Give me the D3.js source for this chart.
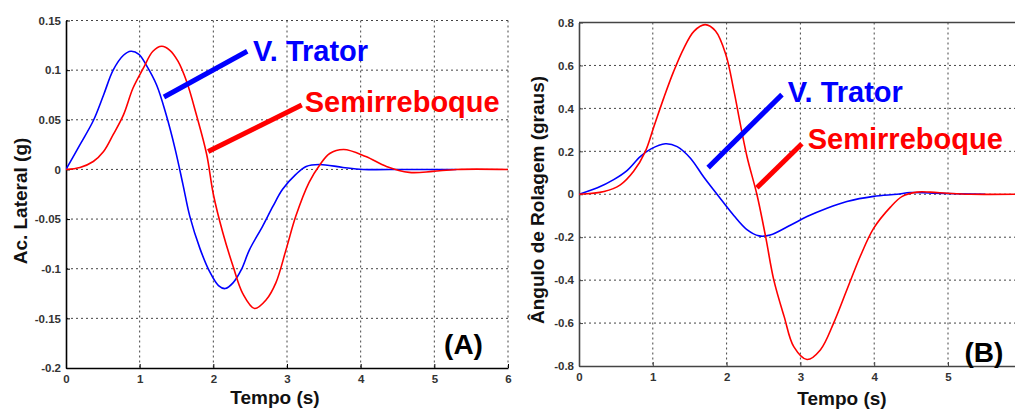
<!DOCTYPE html>
<html>
<head>
<meta charset="utf-8">
<script src="https://cdn.jsdelivr.net/npm/d3@7"></script>
<style>
  html, body { margin: 0; padding: 0; background: #fff; }
  svg { display: block; font-family: "Liberation Sans", Arial, sans-serif; }
</style>
</head>
<body>
<svg id="chart" width="1015" height="410"></svg>
<script>
// ---------------- DATA ----------------
// Panel A: lateral acceleration (g)
const tA_trator = [0, 0.19, 0.37, 0.51, 0.64, 0.78, 0.88, 0.99, 1.09, 1.23, 1.36, 1.48, 1.59, 1.68, 1.82, 1.95, 2.07, 2.16, 2.27, 2.38, 2.49, 2.67, 2.81, 2.94, 3.12, 3.26, 3.44, 3.76, 4.03, 4.6, 5.3];
const vA_trator = [0, 0.025, 0.049, 0.075, 0.1, 0.115, 0.119, 0.116, 0.105, 0.085, 0.055, 0.021, -0.016, -0.047, -0.08, -0.103, -0.117, -0.12, -0.114, -0.101, -0.081, -0.057, -0.037, -0.02, -0.005, 0.003, 0.005, 0.002, 0, 0, 0];
const tA_semi = [0, 0.19, 0.37, 0.51, 0.64, 0.78, 0.91, 1.05, 1.18, 1.30, 1.41, 1.52, 1.64, 1.77, 1.91, 2.0, 2.13, 2.27, 2.40, 2.56, 2.72, 2.85, 2.99, 3.12, 3.30, 3.44, 3.58, 3.77, 4.07, 4.35, 4.66, 4.98, 5.3, 6.0];
const vA_semi = [0, 0.002, 0.008, 0.018, 0.035, 0.055, 0.082, 0.102, 0.119, 0.124, 0.120, 0.109, 0.088, 0.055, 0.015, -0.025, -0.064, -0.098, -0.125, -0.14, -0.131, -0.114, -0.08, -0.047, -0.013, 0.004, 0.016, 0.020, 0.013, 0.003, -0.003, -0.002, 0, 0];

// Panel B: roll angle (degrees)
const tB_trator = [0, 0.25, 0.47, 0.65, 0.83, 0.97, 1.17, 1.33, 1.51, 1.69, 1.87, 2.10, 2.28, 2.44, 2.59, 2.87, 3.09, 3.36, 3.63, 3.99, 4.31, 4.49, 4.80, 5.5];
const vB_trator = [0, 0.03, 0.068, 0.11, 0.175, 0.21, 0.235, 0.222, 0.168, 0.08, 0.0, -0.10, -0.166, -0.194, -0.19, -0.143, -0.104, -0.065, -0.034, -0.01, 0.0, 0.008, 0.005, 0];
const tB_semi = [0, 0.34, 0.56, 0.74, 0.90, 1.01, 1.15, 1.28, 1.42, 1.56, 1.71, 1.85, 1.99, 2.10, 2.19, 2.28, 2.41, 2.53, 2.64, 2.78, 2.91, 3.09, 3.27, 3.45, 3.63, 3.81, 3.99, 4.22, 4.38, 4.58, 4.76, 4.99, 5.3, 6.0];
const vB_semi = [0, 0.013, 0.044, 0.107, 0.2, 0.31, 0.45, 0.57, 0.68, 0.76, 0.79, 0.76, 0.65, 0.48, 0.32, 0.17, 0.0, -0.2, -0.40, -0.57, -0.71, -0.77, -0.725, -0.60, -0.445, -0.29, -0.16, -0.06, -0.01, 0.01, 0.01, 0.005, 0, 0];

// Tick labels
const xTicks = [0, 1, 2, 3, 4, 5, 6];
const xTickLabels = ["0", "1", "2", "3", "4", "5", "6"];
const yTicksA = [0.15, 0.1, 0.05, 0, -0.05, -0.1, -0.15, -0.2];
const yTickLabelsA = ["0.15", "0.1", "0.05", "0", "-0.05", "-0.1", "-0.15", "-0.2"];
const yTicksB = [0.8, 0.6, 0.4, 0.2, 0, -0.2, -0.4, -0.6, -0.8];
const yTickLabelsB = ["0.8", "0.6", "0.4", "0.2", "0", "-0.2", "-0.4", "-0.6", "-0.8"];

// Text
const seriesNames = ["V. Trator", "Semirreboque"];
const xTitle = "Tempo (s)";
const yTitleA = "Ac. Lateral (g)";
const yTitleB = "Ângulo de Rolagem (graus)";
const panelLabels = ["(A)", "(B)"];

// Annotation anchors, in data units: [t, value]
const annA = { trLine: [[1.33, 0.073], [2.46, 0.119]], smLine: [[1.93, 0.018], [3.20, 0.065]], trText: [2.54, 0.109], smText: [3.24, 0.058], label: [5.66, -0.186] };
const annB = { trLine: [[1.75, 0.124], [2.75, 0.464]], smLine: [[2.41, 0.03], [3.02, 0.235]], trText: [2.83, 0.431], smText: [3.10, 0.212], label: [5.75, -0.78] };

// ---------------- DRAW ----------------
const svg = d3.select("#chart");
const BLUE = "#0000ff", RED = "#ff0000";

function panel(cfg) {
  const g = svg.append("g");
  const x = d3.scaleLinear().domain([0, 6]).range(cfg.xr);
  const y = d3.scaleLinear().domain(cfg.yd).range(cfg.yr);
  const [x0, x1] = cfg.xr, [y0, y1] = [cfg.yr[1], cfg.yr[0]];

  const clipId = "clip" + cfg.id;
  svg.append("clipPath").attr("id", clipId).append("rect")
    .attr("x", x0).attr("y", y0 - 2).attr("width", Math.min(x1, 1015) - x0 + 2).attr("height", y1 - y0 + 4);

  // grid
  const gridX = cfg.xTicks.filter(d => d > 0);
  g.selectAll(".gx").data(gridX).enter().append("line")
    .attr("x1", d => x(d)).attr("x2", d => x(d)).attr("y1", y0).attr("y2", y1)
    .attr("stroke", "#444").attr("stroke-width", 1).attr("stroke-dasharray", "2,3");
  const gridY = cfg.yTicks.filter(d => d !== cfg.yd[0]);
  g.selectAll(".gy").data(gridY).enter().append("line")
    .attr("x1", x0).attr("x2", Math.min(x1, 1015)).attr("y1", d => y(d)).attr("y2", d => y(d))
    .attr("stroke", "#444").attr("stroke-width", 1).attr("stroke-dasharray", "2,3");

  // axes
  const xAxis = d3.axisBottom(x).tickValues(cfg.xTicks.filter(d => x(d) <= 1015))
    .tickFormat(d => cfg.xLabels[cfg.xTicks.indexOf(d)]).tickSizeInner(-4).tickSizeOuter(0).tickPadding(9);
  const gx = g.append("g").attr("transform", `translate(0,${y1})`).call(xAxis);
  const yAxis = d3.axisLeft(y).tickValues(cfg.yTicks)
    .tickFormat(d => cfg.yLabels[cfg.yTicks.indexOf(d)]).tickSizeInner(-4).tickSizeOuter(0).tickPadding(5);
  const gy = g.append("g").attr("transform", `translate(${x0},0)`).call(yAxis);
  [gx, gy].forEach(a => {
    a.select(".domain").attr("stroke", cfg.axisColor).attr("stroke-width", 1.6);
    a.selectAll(".tick line").attr("stroke", cfg.axisColor).attr("stroke-width", 1);
    a.selectAll(".tick text").attr("fill", "#333").attr("font-size", 11.5).attr("font-weight", "bold")
      .attr("font-family", "'Liberation Sans', Arial, sans-serif");
  });
  gx.selectAll(".tick text").attr("dy", "0.5em");
  if (cfg.topAxis) {
    g.append("line").attr("x1", x0).attr("x2", 1015).attr("y1", y0).attr("y2", y0)
      .attr("stroke", cfg.axisColor).attr("stroke-width", 1.6);
  }

  // lines
  const line = d3.line().x(d => x(d[0])).y(d => y(d[1])).curve(d3.curveCatmullRom.alpha(0.5));
  const pg = g.append("g").attr("clip-path", `url(#${clipId})`);
  pg.append("path").datum(d3.zip(cfg.tTr, cfg.vTr)).attr("d", line)
    .attr("fill", "none").attr("stroke", BLUE).attr("stroke-width", 1.6);
  pg.append("path").datum(d3.zip(cfg.tSm, cfg.vSm)).attr("d", line)
    .attr("fill", "none").attr("stroke", RED).attr("stroke-width", 1.6);

  // annotations
  const a = cfg.ann;
  g.append("line").attr("x1", x(a.trLine[0][0])).attr("y1", y(a.trLine[0][1]))
    .attr("x2", x(a.trLine[1][0])).attr("y2", y(a.trLine[1][1]))
    .attr("stroke", BLUE).attr("stroke-width", 5);
  g.append("line").attr("x1", x(a.smLine[0][0])).attr("y1", y(a.smLine[0][1]))
    .attr("x2", x(a.smLine[1][0])).attr("y2", y(a.smLine[1][1]))
    .attr("stroke", RED).attr("stroke-width", 5);
  g.append("text").attr("x", x(a.trText[0])).attr("y", y(a.trText[1]))
    .attr("fill", BLUE).attr("font-size", 29).attr("font-weight", "bold").text(seriesNames[0]);
  g.append("text").attr("x", x(a.smText[0])).attr("y", y(a.smText[1]))
    .attr("fill", RED).attr("font-size", 29).attr("font-weight", "bold").text(seriesNames[1]);
  g.append("text").attr("x", x(a.label[0])).attr("y", y(a.label[1]))
    .attr("text-anchor", "end").attr("fill", "#000").attr("font-size", 28).attr("font-weight", "bold").text(cfg.panelLabel);

  // titles
  g.append("text").attr("x", cfg.xTitlePos[0]).attr("y", cfg.xTitlePos[1]).attr("text-anchor", "middle")
    .attr("fill", "#111").attr("font-size", 19).attr("font-weight", "bold").text(xTitle);
  g.append("text").attr("transform", `translate(${cfg.yTitlePos[0]},${cfg.yTitlePos[1]}) rotate(-90)`)
    .attr("text-anchor", "middle").attr("fill", "#111").attr("font-size", 19).attr("font-weight", "bold").text(cfg.yTitle);
}

panel({
  id: "A", xr: [66, 508], yd: [-0.2, 0.15], yr: [368, 20.5],
  xTicks: xTicks, xLabels: xTickLabels, yTicks: yTicksA, yLabels: yTickLabelsA,
  tTr: tA_trator, vTr: vA_trator, tSm: tA_semi, vSm: vA_semi,
  ann: annA, panelLabel: panelLabels[0], axisColor: "#000", topAxis: false,
  xTitlePos: [275, 404], yTitlePos: [27, 201], yTitle: yTitleA
});
panel({
  id: "B", xr: [579, 1021.8], yd: [-0.8, 0.8], yr: [366, 22.5],
  xTicks: xTicks, xLabels: xTickLabels, yTicks: yTicksB, yLabels: yTickLabelsB,
  tTr: tB_trator, vTr: vB_trator, tSm: tB_semi, vSm: vB_semi,
  ann: annB, panelLabel: panelLabels[1], axisColor: "#444", topAxis: true,
  xTitlePos: [842, 405], yTitlePos: [544, 200], yTitle: yTitleB
});
</script>
</body>
</html>
